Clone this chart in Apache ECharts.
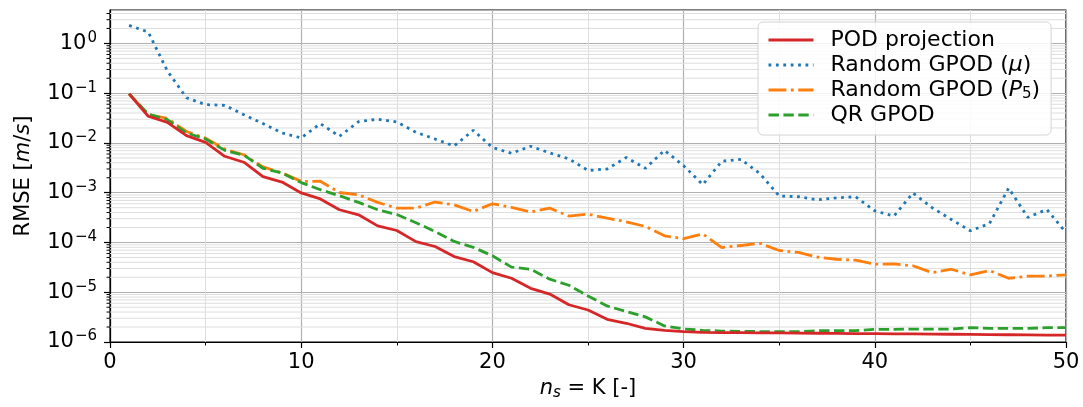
<!DOCTYPE html>
<html>
<head>
<meta charset="utf-8">
<script src="https://cdn.jsdelivr.net/npm/echarts@6/dist/echarts.min.js"></script>
<style>
html,body{margin:0;padding:0;background:#fff;}
#chart{width:1083px;height:407px;}
</style>
</head>
<body>
<div id="chart"></div>
<script>
const nsValues = [1,2,3,4,5,6,7,8,9,10,11,12,13,14,15,16,17,18,19,20,21,22,23,24,25,26,27,28,29,30,31,32,33,34,35,36,37,38,39,40,41,42,43,44,45,46,47,48,49,50];

const podProjection = [
  0.097, 0.0344, 0.026, 0.014, 0.0103, 0.0054, 0.0041, 0.0021, 0.00164, 0.00099,
  0.00075, 0.000455, 0.00036, 0.000216, 0.000174, 0.000104, 8.3e-5, 5.2e-5, 4.1e-5, 2.48e-5,
  1.91e-5, 1.2e-5, 9.2e-6, 5.6e-6, 4.4e-6, 2.86e-6, 2.38e-6, 1.88e-6, 1.72e-6, 1.61e-6,
  1.56e-6, 1.55e-6, 1.54e-6, 1.53e-6, 1.52e-6, 1.51e-6, 1.5e-6, 1.49e-6, 1.48e-6, 1.47e-6,
  1.46e-6, 1.45e-6, 1.44e-6, 1.43e-6, 1.42e-6, 1.41e-6, 1.4e-6, 1.39e-6, 1.38e-6, 1.38e-6
];

const randomGpodMu = [
  2.3, 1.7, 0.28, 0.081, 0.059, 0.057, 0.037, 0.0245, 0.0159, 0.0126,
  0.0245, 0.0136, 0.0268, 0.030, 0.0265, 0.0164, 0.0120, 0.0087, 0.018, 0.0081,
  0.0062, 0.0086, 0.0063, 0.0048, 0.0028, 0.0030, 0.0051, 0.0031, 0.0071, 0.0035,
  0.00145, 0.0043, 0.0047, 0.0024, 0.00086, 0.00083, 0.00072, 0.00079, 0.00083, 0.00043,
  0.00034, 0.00099, 0.0005, 0.00029, 0.000172, 0.00024, 0.00124, 0.00032, 0.00046, 0.000158
];

const randomGpodP5 = [
  0.097, 0.037, 0.031, 0.017, 0.0125, 0.0075, 0.0058, 0.0033, 0.0025, 0.00169,
  0.0017, 0.00101, 0.00091, 0.00064, 0.00049, 0.00049, 0.00065, 0.00057, 0.00042, 0.0006,
  0.00051, 0.00041, 0.00049, 0.00034, 0.00037, 0.00031, 0.00026, 0.00021, 0.000136, 0.000119,
  0.000149, 7.9e-5, 8.7e-5, 9.6e-5, 6.9e-5, 6.3e-5, 5.1e-5, 4.6e-5, 4.4e-5, 3.66e-5,
  3.7e-5, 3.4e-5, 2.48e-5, 2.9e-5, 2.23e-5, 2.73e-5, 1.91e-5, 2.1e-5, 2.12e-5, 2.23e-5
];

const qrGpod = [
  0.097, 0.038, 0.0295, 0.0159, 0.012, 0.0071, 0.0057, 0.0031, 0.0025, 0.0016,
  0.00115, 0.00087, 0.00064, 0.000455, 0.000366, 0.00025, 0.000166, 0.000105, 8.0e-5, 5.4e-5,
  3.2e-5, 2.9e-5, 1.83e-5, 1.38e-5, 8.4e-6, 5.3e-6, 4.1e-6, 3.2e-6, 2.1e-6, 1.83e-6,
  1.72e-6, 1.66e-6, 1.64e-6, 1.62e-6, 1.61e-6, 1.61e-6, 1.69e-6, 1.69e-6, 1.69e-6, 1.8e-6,
  1.8e-6, 1.82e-6, 1.82e-6, 1.82e-6, 1.94e-6, 1.88e-6, 1.88e-6, 1.88e-6, 1.94e-6, 1.94e-6
];

const seriesNames = ['POD projection', 'Random GPOD (μ)', 'Random GPOD (P5)', 'QR GPOD'];
const xTickValues = [0, 10, 20, 30, 40, 50];
const yMin = 1e-6, yMax = 4.7;

const FONT = 'DejaVu Sans';

// minor log grid positions (2..9 x 10^k)
const minorY = [];
for (let k = -6; k <= 0; k++) {
  for (let m = 2; m <= 9; m++) {
    const v = m * Math.pow(10, k);
    if (v < yMax) minorY.push([0, v]);
  }
}

function pairs(arr) { return nsValues.map((x, i) => [x, arr[i]]); }

const chart = echarts.init(document.getElementById('chart'), null, {renderer: 'canvas'});

const legendLabel = {
  'POD projection': 'POD projection',
  'Random GPOD (μ)': 'Random GPOD ({it|μ})',
  'Random GPOD (P5)': 'Random GPOD ({it|P}{sub|5})',
  'QR GPOD': 'QR GPOD'
};

function supExp(v) {
  const e = Math.round(Math.log10(v));
  return '10{sup|' + (e < 0 ? '\u2212' + (-e) : String(e)) + '}';
}

const option = {
  animation: false,
  backgroundColor: '#fff',
  grid: {left: 110, right: 17, top: 10, bottom: 65, show: true, borderColor: '#000', borderWidth: 1.2, backgroundColor: 'transparent'},
  legend: {
    data: seriesNames,
    orient: 'vertical',
    left: 758, top: 22,
    padding: [6, 11, 8, 9],
    itemWidth: 45, itemHeight: 14, itemGap: 1,
    backgroundColor: 'rgba(255,255,255,0.85)',
    borderColor: '#d4d4d4', borderWidth: 1, borderRadius: 5,
    lineStyle: {width: 3},
    itemStyle: {color: 'rgba(0,0,0,0)', borderColor: 'rgba(0,0,0,0)', borderWidth: 0, opacity: 0},
    textStyle: {
      fontFamily: FONT, fontSize: 22, lineHeight: 24, color: '#000', padding: [0, 0, 0, 12],
      rich: {
        it: {fontFamily: FONT, fontSize: 22, lineHeight: 24, fontStyle: 'italic', color: '#000'},
        sub: {fontFamily: FONT, fontSize: 15, lineHeight: 24, color: '#000', padding: [9, 0, 0, 0]}
      }
    },
    formatter: name => legendLabel[name]
  },
  xAxis: {
    type: 'value', min: 0, max: 50, interval: 10,
    name: '{it|n}{sub|s} = K [-]',
    nameLocation: 'middle', nameGap: 31,
    nameTextStyle: {
      fontFamily: FONT, fontSize: 21, color: '#000',
      rich: {
        it: {fontFamily: FONT, fontSize: 21, fontStyle: 'italic', color: '#000'},
        sub: {fontFamily: FONT, fontSize: 15, fontStyle: 'italic', color: '#000', padding: [9, 0, 0, 0]}
      }
    },
    axisLine: {show: true, onZero: false, lineStyle: {color: '#000', width: 1.2}},
    axisTick: {show: true, inside: false, length: 6, lineStyle: {color: '#000', width: 1.2}},
    minorTick: {show: true, splitNumber: 2, length: 3.5, lineStyle: {color: '#000', width: 1}},
    axisLabel: {fontFamily: FONT, fontSize: 21, color: '#000', margin: 10,
      formatter: v => xTickValues.indexOf(v) >= 0 ? String(v) : ''},
    splitLine: {show: true, lineStyle: {color: '#b0b0b0', width: 1.2}},
    minorSplitLine: {show: true, lineStyle: {color: '#dedede', width: 1}}
  },
  yAxis: {
    type: 'log', logBase: 10, min: yMin, max: yMax, interval: 1,
    name: 'RMSE [{it|m}/{it|s}]',
    nameLocation: 'middle', nameGap: 76, nameRotate: 90,
    nameTextStyle: {
      fontFamily: FONT, fontSize: 21, color: '#000',
      rich: {it: {fontFamily: FONT, fontSize: 21, fontStyle: 'italic', color: '#000'}}
    },
    axisLine: {show: true, lineStyle: {color: '#000', width: 1.2}},
    axisTick: {show: true, inside: false, length: 6, lineStyle: {color: '#000', width: 1.2}},
    axisLabel: {
      fontFamily: FONT, fontSize: 21, color: '#000', margin: 13,
      showMaxLabel: false,
      formatter: supExp,
      rich: {sup: {fontFamily: FONT, fontSize: 15, color: '#000', padding: [0, 0, 11, 1]}}
    },
    splitLine: {show: true, lineStyle: {color: '#b0b0b0', width: 1.2}}
  },
  series: [
    {
      name: 'minorGrid', type: 'custom', silent: true, z: 1, clip: false,
      data: minorY, encode: {x: 0, y: 1},
      renderItem: function (params, api) {
        const cs = params.coordSys;
        const p = api.coord([0, api.value(1)]);
        return {
          type: 'group',
          children: [
            {type: 'line', shape: {x1: cs.x, y1: p[1], x2: cs.x + cs.width, y2: p[1]},
             style: {stroke: '#dedede', lineWidth: 1}},
            {type: 'line', shape: {x1: cs.x - 3.5, y1: p[1], x2: cs.x, y2: p[1]},
             style: {stroke: '#000', lineWidth: 1}}
          ]
        };
      }
    },
    {
      name: 'POD projection', type: 'line', data: pairs(podProjection),
      symbol: 'none', showSymbol: false, z: 5,
      itemStyle: {color: '#d62728'},
      lineStyle: {color: '#d62728', width: 2.8, type: 'solid'}
    },
    {
      name: 'Random GPOD (μ)', type: 'line', data: pairs(randomGpodMu),
      symbol: 'none', showSymbol: false, z: 4,
      itemStyle: {color: '#1f77b4'},
      lineStyle: {color: '#1f77b4', width: 2.8, type: [2.8, 4.6]}
    },
    {
      name: 'Random GPOD (P5)', type: 'line', data: pairs(randomGpodP5),
      symbol: 'none', showSymbol: false, z: 4,
      itemStyle: {color: '#ff7f0e'},
      lineStyle: {color: '#ff7f0e', width: 2.8, type: [17.9, 4.5, 2.8, 4.5]}
    },
    {
      name: 'QR GPOD', type: 'line', data: pairs(qrGpod),
      symbol: 'none', showSymbol: false, z: 4,
      itemStyle: {color: '#2ca02c'},
      lineStyle: {color: '#2ca02c', width: 2.8, type: [10.4, 4.5]}
    }
  ]
};

chart.setOption(option);
</script>
</body>
</html>
